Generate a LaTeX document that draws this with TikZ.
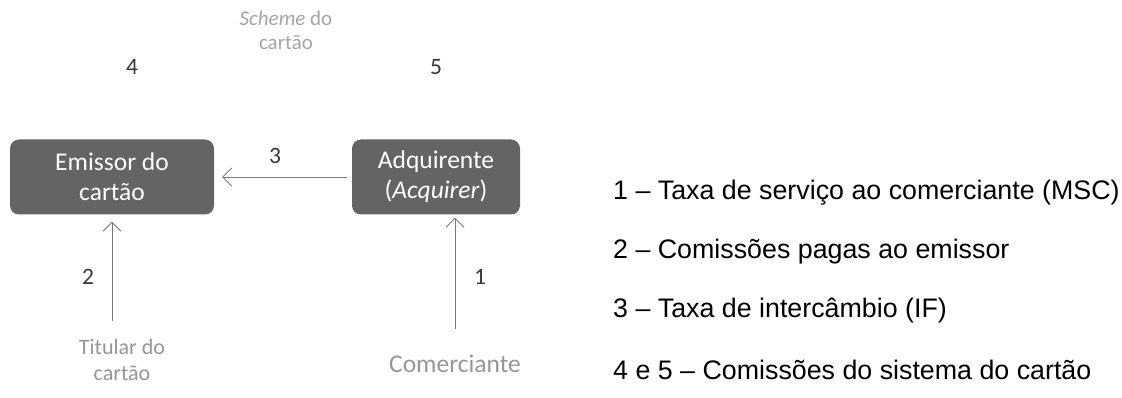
\documentclass[tikz,border=0pt]{standalone}
\usepackage{fontspec}
\setmainfont{Carlito}
\newfontfamily\arialfont{Liberation Sans}
\usetikzlibrary{arrows.meta}
\definecolor{boxgray}{RGB}{100,100,100}
\definecolor{lightlab}{RGB}{150,150,150}
\definecolor{schemegray}{RGB}{165,165,165}
\definecolor{numgray}{RGB}{55,55,55}
\definecolor{arrgray}{RGB}{120,120,120}
\tikzset{
  entity/.style={draw=none, fill=boxgray, rounded corners=9pt, text=white, align=center,
     font=\fontsize{25.5}{30}\selectfont, inner sep=0pt},
  party/.style={text=lightlab, align=center, font=\fontsize{22}{26}\selectfont, inner sep=0pt},
  num/.style={text=numgray, font=\fontsize{23.5}{28}\selectfont, inner sep=0pt},
  legend/.style={anchor=west, font=\arialfont\fontsize{26.8}{30}\selectfont, inner sep=0pt},
  flow/.style={draw=arrgray, line width=0.8pt, -{Straight Barb[length=9pt,width=18pt,line width=0.8pt]}}
}
\begin{document}
\begin{tikzpicture}[x=1pt,y=-1pt]
\useasboundingbox (0,0) rectangle (1122,398);
% boxes
\node[entity, minimum width=204pt, minimum height=75pt] (emissor) at (112,177) {Emissor do\\cart\~ao};
\node[entity, minimum width=168pt, minimum height=75pt] (adq) at (436,177) {Adquirente\\(\textit{Acquirer})};
% parties
\node[party] (titular) at (122,360) {Titular do\\cart\~ao};
\node[party, font=\fontsize{25.5}{28}\selectfont] (comerc) at (455,364) {Comerciante};
\node[party, text=schemegray, font=\fontsize{21}{24}\selectfont] (scheme) at (286,30) {\textit{Scheme} do\\cart\~ao};
% numbers
\node[num] (n4) at (132,67) {4};
\node[num] (n5) at (436,67) {5};
\node[num] (n3) at (275,156) {3};
\node[num] (n2) at (88,277) {2};
\node[num] (n1) at (480,277) {1};
% connectors
\draw[flow, shorten <=5pt, shorten >=8pt] (adq.west) -- (emissor.east);
\draw[flow, shorten <=18pt, shorten >=7pt] (titular.north -| emissor.south) -- (emissor.south);
\draw[flow, shorten <=26pt, shorten >=3pt] (comerc.north) -- (comerc.north |- adq.south);
% legend
\node[legend] (l1) at (613,193) {1 – Taxa de serviço ao comerciante (MSC)};
\node[legend] (l2) at (613,252) {2 – Comissões pagas ao emissor};
\node[legend] (l3) at (613,311) {3 – Taxa de intercâmbio (IF)};
\node[legend] (l4) at (613,370) {4 e 5 – Comissões do sistema do cartão};
\end{tikzpicture}
\end{document}
